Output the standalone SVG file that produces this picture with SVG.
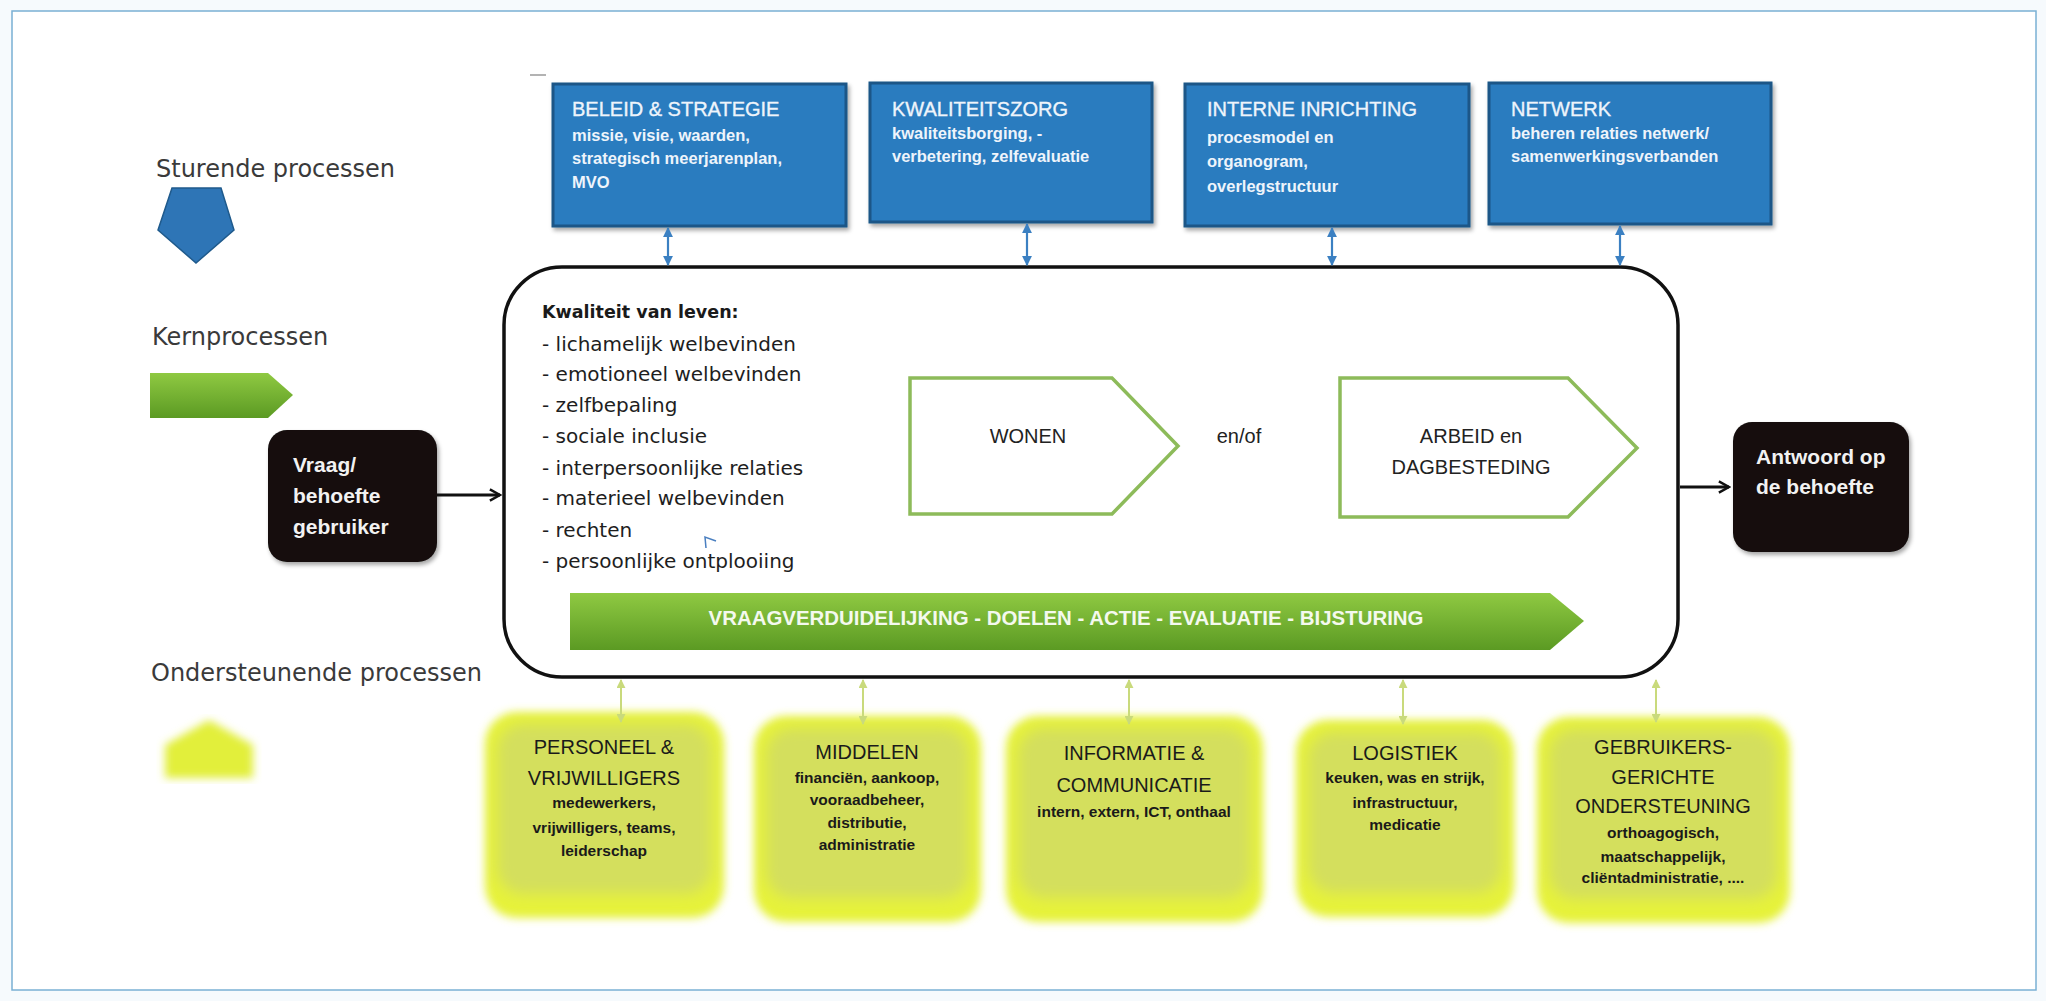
<svg xmlns="http://www.w3.org/2000/svg" width="2046" height="1001" viewBox="0 0 2046 1001">
<defs>
<style>
.lbl{font-family:"DejaVu Sans",Verdana,sans-serif;font-size:24px;fill:#3a3a3a}
.bt{font-family:"Liberation Sans",Arial,sans-serif;font-size:20px;fill:#eef4fb;stroke:#eef4fb;stroke-width:0.35}
.bs{font-family:"Liberation Sans",Arial,sans-serif;font-size:16.5px;font-weight:bold;fill:#eef4fb}
.bbox{fill:#2b7bbf;stroke:#1c5687;stroke-width:3}
.list{font-family:"DejaVu Sans",Verdana,sans-serif;font-size:20px;fill:#1e1e1e}
.yt{font-family:"Liberation Sans",Arial,sans-serif;font-size:20px;fill:#1a1a1a;text-anchor:middle}
.ys{font-family:"Liberation Sans",Arial,sans-serif;font-size:15.5px;font-weight:bold;fill:#1a1a1a;text-anchor:middle}
.wt{font-family:"Liberation Sans",Arial,sans-serif;font-size:20px;fill:#222;text-anchor:middle}
.blk{font-family:"Liberation Sans",Arial,sans-serif;font-size:21px;font-weight:bold;fill:#f2f2f2}
.chev{fill:#fff;stroke:#8dbb5a;stroke-width:3.5}
.ya{stroke:#c9da7c;stroke-width:2;fill:none;marker-start:url(#yh);marker-end:url(#yh)}
.ba{stroke:#3b80c2;stroke-width:2.2;fill:none;marker-start:url(#bh);marker-end:url(#bh)}
</style>
<linearGradient id="gbar" x1="0" y1="0" x2="0" y2="1">
<stop offset="0" stop-color="#8fc942"/><stop offset="1" stop-color="#5b9a23"/>
</linearGradient>
<filter id="glow" x="-10%" y="-10%" width="120%" height="120%"><feGaussianBlur stdDeviation="4"/></filter>
<filter id="soft" x="-10%" y="-10%" width="120%" height="120%"><feGaussianBlur stdDeviation="7"/></filter>
<filter id="sh" x="-5%" y="-5%" width="115%" height="120%"><feDropShadow dx="2" dy="3" stdDeviation="2" flood-color="#000" flood-opacity="0.35"/></filter>
<marker id="bh" viewBox="0 0 10 10" refX="9" refY="5" markerWidth="4.5" markerHeight="4.5" orient="auto-start-reverse"><path d="M0,0 L10,5 L0,10 z" fill="#3b80c2"/></marker>
<marker id="yh" viewBox="0 0 10 10" refX="9" refY="5" markerWidth="4.5" markerHeight="4.5" orient="auto-start-reverse"><path d="M0,0 L10,5 L0,10 z" fill="#c9da7c"/></marker>
<marker id="kh" viewBox="0 0 12 12" refX="10" refY="6" markerWidth="4.5" markerHeight="4.5" orient="auto"><path d="M1,1 L10,6 L1,11" fill="none" stroke="#111" stroke-width="2.2"/></marker>
</defs>
<rect x="0" y="0" width="2046" height="1001" fill="#f6fafd"/>
<rect x="12" y="11" width="2024" height="979" fill="#ffffff" stroke="#7ab0d4" stroke-width="1.5"/>
<line x1="530" y1="75" x2="546" y2="75" stroke="#9a9a9a" stroke-width="1.5"/>

<g id="legend">
<text class="lbl" x="156" y="177">Sturende processen</text>
<polygon points="172,188 221,188 234,230 196,263 158,230" fill="#2e75b6" stroke="#1f5a8c" stroke-width="1.5"/>
<text class="lbl" x="152" y="345">Kernprocessen</text>
<polygon points="150,373 268,373 293,395 268,418 150,418" fill="url(#gbar)"/>
<text class="lbl" x="151" y="681" font-size="25">Ondersteunende processen</text>
<polygon points="209,720 253,745 253,778 165,778 165,745" fill="#e2ef3a" filter="url(#glow)"/>
</g>

<g id="beleid">
<rect class="bbox" x="553" y="84" width="293" height="142" filter="url(#sh)"/>
<text class="bt" x="572" y="116">BELEID &amp; STRATEGIE</text>
<text class="bs" x="572" y="141">missie, visie, waarden,</text>
<text class="bs" x="572" y="164">strategisch meerjarenplan,</text>
<text class="bs" x="572" y="188">MVO</text>
</g>
<g id="kwaliteitszorg">
<rect class="bbox" x="870" y="83" width="282" height="139" filter="url(#sh)"/>
<text class="bt" x="892" y="116">KWALITEITSZORG</text>
<text class="bs" x="892" y="139">kwaliteitsborging, -</text>
<text class="bs" x="892" y="162">verbetering, zelfevaluatie</text>
</g>
<g id="interne">
<rect class="bbox" x="1185" y="84" width="284" height="142" filter="url(#sh)"/>
<text class="bt" x="1207" y="116">INTERNE INRICHTING</text>
<text class="bs" x="1207" y="143">procesmodel en</text>
<text class="bs" x="1207" y="167">organogram,</text>
<text class="bs" x="1207" y="192">overlegstructuur</text>
</g>
<g id="netwerk">
<rect class="bbox" x="1489" y="83" width="282" height="141" filter="url(#sh)"/>
<text class="bt" x="1511" y="116">NETWERK</text>
<text class="bs" x="1511" y="139">beheren relaties netwerk/</text>
<text class="bs" x="1511" y="162">samenwerkingsverbanden</text>
</g>

<g id="kern">
<rect x="504" y="267" width="1174" height="410" rx="58" ry="58" fill="#fff" stroke="#111" stroke-width="3.5"/>
<text x="542" y="318" font-family="DejaVu Sans, Verdana, sans-serif" font-size="17.5" font-weight="bold" fill="#1a1a1a">Kwaliteit van leven:</text>
<text class="list" x="542" y="351">- lichamelijk welbevinden</text>
<text class="list" x="542" y="381">- emotioneel welbevinden</text>
<text class="list" x="542" y="412">- zelfbepaling</text>
<text class="list" x="542" y="443">- sociale inclusie</text>
<text class="list" x="542" y="475">- interpersoonlijke relaties</text>
<text class="list" x="542" y="505">- materieel welbevinden</text>
<text class="list" x="542" y="537">- rechten</text>
<text class="list" x="542" y="568">- persoonlijke ontplooiing</text>
<path d="M706,548 L705,537 L716,541" fill="none" stroke="#4a7fc0" stroke-width="1.5"/>
</g>
<g id="wonen">
<polygon class="chev" points="910,378 1112,378 1178,446 1112,514 910,514"/>
<text class="wt" x="1028" y="443">WONEN</text>
</g>
<text class="wt" x="1239" y="443">en/of</text>
<g id="arbeid">
<polygon class="chev" points="1340,378 1568,378 1637,448 1568,517 1340,517"/>
<text class="wt" x="1471" y="443">ARBEID en</text>
<text class="wt" x="1471" y="474">DAGBESTEDING</text>
</g>
<g id="cyclus">
<polygon points="570,593 1550,593 1584,621 1550,650 570,650" fill="url(#gbar)"/>
<text x="1066" y="625" text-anchor="middle" textLength="715" lengthAdjust="spacingAndGlyphs" font-family="Liberation Sans, Arial, sans-serif" font-size="20" font-weight="bold" fill="#f4f9ee">VRAAGVERDUIDELIJKING - DOELEN - ACTIE - EVALUATIE - BIJSTURING</text>
</g>

<g id="vraag">
<rect x="268" y="430" width="169" height="132" rx="19" fill="#140f0d" filter="url(#sh)"/>
<text class="blk" x="293" y="472">Vraag/</text>
<text class="blk" x="293" y="503">behoefte</text>
<text class="blk" x="293" y="534">gebruiker</text>
</g>
<g id="antwoord">
<rect x="1733" y="422" width="176" height="130" rx="19" fill="#140f0d" filter="url(#sh)"/>
<text class="blk" x="1756" y="464">Antwoord op</text>
<text class="blk" x="1756" y="494">de behoefte</text>
</g>

<g id="personeel">
<rect x="485" y="712" width="239" height="206" rx="32" fill="#e6f23a" filter="url(#glow)"/>
<rect x="497" y="724" width="215" height="170" rx="26" fill="#d4df5d" filter="url(#soft)"/>
<text class="yt" x="604" y="754">PERSONEEL &amp;</text>
<text class="yt" x="604" y="785">VRIJWILLIGERS</text>
<text class="ys" x="604" y="808">medewerkers,</text>
<text class="ys" x="604" y="833">vrijwilligers, teams,</text>
<text class="ys" x="604" y="856">leiderschap</text>
</g>
<g id="middelen">
<rect x="754" y="716" width="227" height="206" rx="32" fill="#e6f23a" filter="url(#glow)"/>
<rect x="766" y="728" width="203" height="170" rx="26" fill="#d4df5d" filter="url(#soft)"/>
<text class="yt" x="867" y="759">MIDDELEN</text>
<text class="ys" x="867" y="783">financiën, aankoop,</text>
<text class="ys" x="867" y="805">vooraadbeheer,</text>
<text class="ys" x="867" y="828">distributie,</text>
<text class="ys" x="867" y="850">administratie</text>
</g>
<g id="informatie">
<rect x="1006" y="716" width="257" height="206" rx="32" fill="#e6f23a" filter="url(#glow)"/>
<rect x="1018" y="728" width="233" height="170" rx="26" fill="#d4df5d" filter="url(#soft)"/>
<text class="yt" x="1134" y="760">INFORMATIE &amp;</text>
<text class="yt" x="1134" y="792">COMMUNICATIE</text>
<text class="ys" x="1134" y="817">intern, extern, ICT, onthaal</text>
</g>
<g id="logistiek">
<rect x="1296" y="720" width="218" height="197" rx="32" fill="#e6f23a" filter="url(#glow)"/>
<rect x="1308" y="732" width="194" height="161" rx="26" fill="#d4df5d" filter="url(#soft)"/>
<text class="yt" x="1405" y="760">LOGISTIEK</text>
<text class="ys" x="1405" y="783">keuken, was en strijk,</text>
<text class="ys" x="1405" y="808">infrastructuur,</text>
<text class="ys" x="1405" y="830">medicatie</text>
</g>
<g id="gebruikers">
<rect x="1537" y="717" width="253" height="206" rx="32" fill="#e6f23a" filter="url(#glow)"/>
<rect x="1549" y="729" width="229" height="170" rx="26" fill="#d4df5d" filter="url(#soft)"/>
<text class="yt" x="1663" y="754">GEBRUIKERS-</text>
<text class="yt" x="1663" y="784">GERICHTE</text>
<text class="yt" x="1663" y="813">ONDERSTEUNING</text>
<text class="ys" x="1663" y="838">orthoagogisch,</text>
<text class="ys" x="1663" y="862">maatschappelijk,</text>
<text class="ys" x="1663" y="883">cliëntadministratie, ....</text>
</g>

<g id="connectors">
<line class="ba" x1="668" y1="228" x2="668" y2="265"/>
<line class="ba" x1="1027" y1="224" x2="1027" y2="265"/>
<line class="ba" x1="1332" y1="228" x2="1332" y2="265"/>
<line class="ba" x1="1620" y1="226" x2="1620" y2="265"/>
<line class="ya" x1="621" y1="680" x2="621" y2="722"/>
<line class="ya" x1="863" y1="680" x2="863" y2="724"/>
<line class="ya" x1="1129" y1="680" x2="1129" y2="724"/>
<line class="ya" x1="1403" y1="680" x2="1403" y2="724"/>
<line class="ya" x1="1656" y1="680" x2="1656" y2="722"/>
<line x1="437" y1="495" x2="500" y2="495" stroke="#111" stroke-width="3" marker-end="url(#kh)"/>
<line x1="1680" y1="487" x2="1729" y2="487" stroke="#111" stroke-width="3" marker-end="url(#kh)"/>
</g>
</svg>
